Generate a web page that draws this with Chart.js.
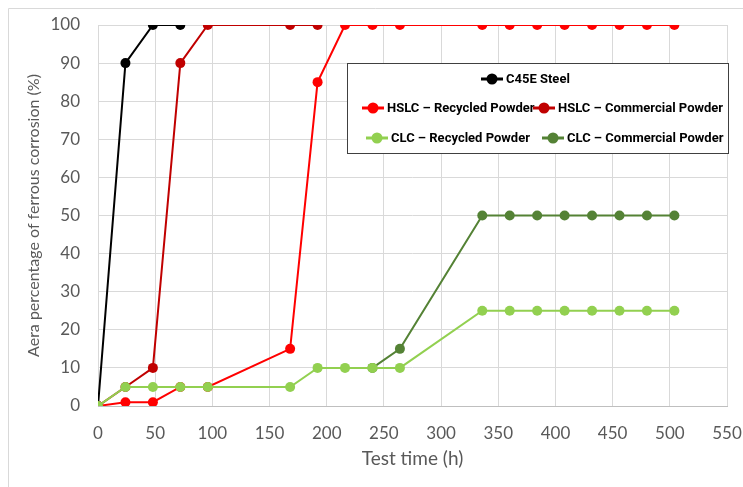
<!DOCTYPE html>
<html>
<head>
<meta charset="utf-8">
<script src="https://cdn.jsdelivr.net/npm/chart.js@4"></script>
<style>
  html, body { margin: 0; padding: 0; background: #fff; }
  #wrap { width: 743px; height: 487px; position: relative; }
</style>
</head>
<body>
<div id="wrap"><canvas id="chart" width="743" height="487"></canvas></div>
<script>
const hours = [0, 24, 48, 72, 96, 168, 192, 216, 240, 264, 336, 360, 384, 408, 432, 456, 480, 504];
const c45eSteel      = [0, 90, 100, 100, null, null, null, null, null, null, null, null, null, null, null, null, null, null];
const hslcRecycled   = [0, 1, 1, 5, 5, 15, 85, 100, 100, 100, 100, 100, 100, 100, 100, 100, 100, 100];
const hslcCommercial = [0, 5, 10, 90, 100, 100, 100, null, null, null, null, null, null, null, null, null, null, null];
const clcRecycled    = [0, 5, 5, 5, 5, 5, 10, 10, 10, 10, 25, 25, 25, 25, 25, 25, 25, 25];
const clcCommercial  = [null, null, null, null, null, null, null, null, 10, 15, 50, 50, 50, 50, 50, 50, 50, 50];
const xTicks = [0, 50, 100, 150, 200, 250, 300, 350, 400, 450, 500, 550];
const yTicks = [0, 10, 20, 30, 40, 50, 60, 70, 80, 90, 100];

const FONT = 'Lato, "Open Sans", sans-serif';
const GREY = '#595959';

function points(vals) {
  return hours.map((h, i) => ({ x: h, y: vals[i] })).filter(p => p.y !== null);
}

function series(label, vals, color, order) {
  return {
    label: label,
    data: points(vals),
    borderColor: color,
    backgroundColor: color,
    borderWidth: 2,
    pointRadius: 5,
    pointBorderWidth: 0,
    pointHoverRadius: 5,
    order: order
  };
}

// legend drawn as a boxed panel inside the plot, like the original
const boxLegend = {
  id: 'boxLegend',
  beforeDraw(chart) {
    // faint outer frame, only top and left edges fall inside the picture
    const ctx = chart.ctx;
    ctx.save();
    ctx.strokeStyle = '#D9D9D9';
    ctx.lineWidth = 1;
    ctx.beginPath();
    ctx.moveTo(8.5, 490);
    ctx.lineTo(8.5, 8.5);
    ctx.lineTo(743, 8.5);
    ctx.stroke();
    ctx.restore();
  },
  afterDraw(chart) {
    const ctx = chart.ctx;
    const ds = chart.data.datasets;
    ctx.save();
    ctx.fillStyle = '#fff';
    ctx.fillRect(347.5, 63.5, 381, 90);
    ctx.strokeStyle = '#404040';
    ctx.lineWidth = 1;
    ctx.strokeRect(347.5, 63.5, 381, 90);
    const items = [
      [0, 492, 79],
      [1, 373, 108],
      [2, 544, 108],
      [3, 377, 138],
      [4, 553, 138]
    ];
    ctx.font = 'bold 13px Roboto, sans-serif';
    ctx.textBaseline = 'middle';
    items.forEach(([i, cx, cy]) => {
      const c = ds[i].borderColor;
      ctx.strokeStyle = c;
      ctx.fillStyle = c;
      ctx.lineWidth = 3;
      ctx.beginPath();
      ctx.moveTo(cx - 11, cy);
      ctx.lineTo(cx + 11, cy);
      ctx.stroke();
      ctx.beginPath();
      ctx.arc(cx, cy, 5.5, 0, Math.PI * 2);
      ctx.fill();
      ctx.fillStyle = '#000';
      ctx.fillText(ds[i].label, cx + 14, cy + 1);
    });
    ctx.restore();
  }
};

new Chart(document.getElementById('chart'), {
  type: 'line',
  data: {
    datasets: [
      series('C45E Steel', c45eSteel, '#000000', 5),
      series('HSLC \u2013 Recycled Powder', hslcRecycled, '#FF0000', 4),
      series('HSLC \u2013 Commercial Powder', hslcCommercial, '#C00000', 3),
      series('CLC \u2013 Recycled Powder', clcRecycled, '#92D050', 1),
      series('CLC \u2013 Commercial Powder', clcCommercial, '#548235', 2)
    ]
  },
  options: {
    responsive: false,
    animation: false,
    layout: { padding: { left: 24, right: 16, top: 25, bottom: 17 } },
    plugins: {
      legend: { display: false },
      tooltip: { enabled: false }
    },
    scales: {
      x: {
        type: 'linear',
        min: 0,
        max: 550,
        afterBuildTicks: s => { s.ticks = xTicks.map(v => ({ value: v })); },
        afterFit: s => { s.height = 64; s.paddingLeft = 0; s.paddingRight = 0; },
        grid: { color: '#D9D9D9', drawTicks: false },
        border: { color: '#BFBFBF' },
        ticks: { color: GREY, font: { family: FONT, size: 17 }, padding: 17 },
        title: { display: true, text: 'Test time (h)', color: GREY, font: { family: FONT, size: 19 }, padding: 0 }
      },
      y: {
        min: 0,
        max: 100,
        afterBuildTicks: s => { s.ticks = yTicks.map(v => ({ value: v })); },
        afterFit: s => { s.width = 74; s.paddingTop = 0; s.paddingBottom = 0; },
        grid: { color: '#D9D9D9', drawTicks: false },
        border: { display: false },
        ticks: { color: GREY, font: { family: FONT, size: 17 }, padding: 18 },
        title: { display: true, text: 'Aera percentage of ferrous corrosion (%)', color: GREY, font: { family: FONT, size: 16 }, padding: 0 }
      }
    }
  },
  plugins: [boxLegend]
});
</script>
</body>
</html>
